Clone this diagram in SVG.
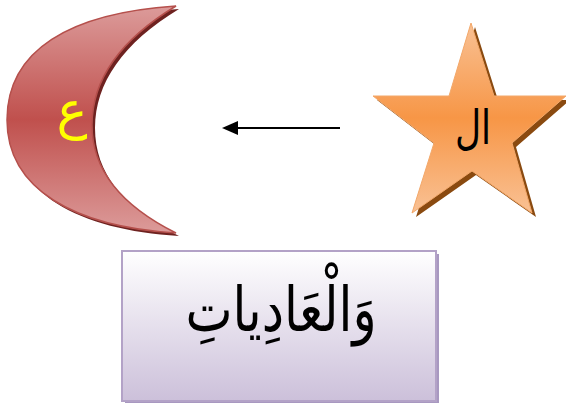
<svg xmlns="http://www.w3.org/2000/svg" width="566" height="403" viewBox="0 0 566 403">
<style>
.ar{font-family:"DejaVu Sans","Noto Sans",sans-serif;text-anchor:middle}
</style>
<defs>
<linearGradient id="gc" x1="0" y1="0" x2="0" y2="1">
<stop offset="0" stop-color="#dc9b9a"/>
<stop offset="0.5" stop-color="#c0504d"/>
<stop offset="1" stop-color="#dc9b9a"/>
</linearGradient>
<linearGradient id="gs" x1="0" y1="0" x2="0" y2="1">
<stop offset="0" stop-color="#f9c194"/>
<stop offset="0.5" stop-color="#f79646"/>
<stop offset="1" stop-color="#f9c194"/>
</linearGradient>
<linearGradient id="gr" x1="0" y1="0" x2="0" y2="1">
<stop offset="0" stop-color="#ffffff"/>
<stop offset="1" stop-color="#ccc0da"/>
</linearGradient>
<path id="moon" d="M176,6 C70,13 7,50 7,120 C7,190 76,227 176,233 C120,205 92,170 92,125 C92,80 120,40 176,6 Z"/>
<marker id="ah" markerWidth="16" markerHeight="14" refX="2" refY="7" orient="auto" markerUnits="userSpaceOnUse" viewBox="0 0 16 14">
<path d="M0,0 L16,7 L0,14 Z" fill="#000"/>
</marker>
</defs>
<g id="crescent">
<use href="#moon" transform="translate(3,3)" fill="#6e2220"/>
<use href="#moon" fill="url(#gc)" stroke="#b5504c" stroke-width="1.5"/>
<text class="ar" x="72" y="128" font-size="52" fill="#ffff00">ع</text>
</g>
<g id="star">
<path d="M475,27 L498,100 L570,100 L516,147 L536,217 L476,175 L416,217 L438,147 L377,100 L453,100 Z" fill="#8a4a10"/>
<path d="M471,23 L494,96 L566,96 L512,143 L532,213 L472,171 L412,213 L434,143 L373,96 L449,96 Z" fill="url(#gs)" stroke="#f3a86a" stroke-width="1"/>
<text class="ar" font-size="36" fill="#000" transform="translate(473,144) scale(1,1.3)">ال</text>
</g>
<g id="word">
<rect x="125" y="254" width="314" height="150" fill="#a898c0"/>
<rect x="122" y="251" width="314" height="150" fill="url(#gr)" stroke="#b3a2c7" stroke-width="2"/>
<text class="ar" font-size="50" fill="#000" transform="translate(281,331) scale(1,1.25)">وَالْعَادِياتِ</text>
</g>
<g id="connectors">
<line x1="340" y1="128" x2="236" y2="128" stroke="#000" stroke-width="2" marker-end="url(#ah)"/>
</g>
</svg>
